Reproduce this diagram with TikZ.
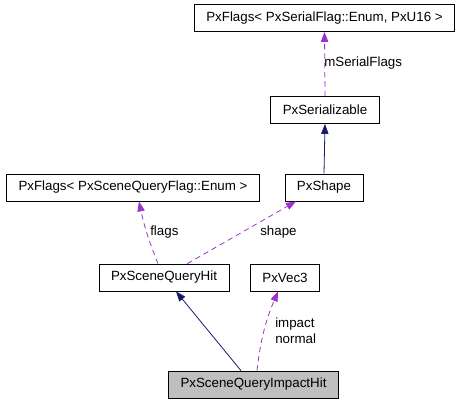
\documentclass[tikz,border=0pt]{standalone}
\usepackage{fontspec}
\setmainfont{Liberation Sans}
\usetikzlibrary{arrows.meta}

\definecolor{memberpurple}{HTML}{9A32CD}
\definecolor{basenavy}{HTML}{191970}

\begin{document}
\begin{tikzpicture}[
    x=0.75pt, y=0.75pt,
    >={Triangle[length=7.5pt, width=5.5pt]},
    classbox/.style={
        rectangle,
        draw=black,
        line width=0.6pt,
        fill=white,
        inner xsep=9pt,
        inner ysep=0pt,
        minimum height=20.25pt,
        font=\fontsize{10}{12}\selectfont
    },
    current/.style={
        classbox,
        fill=black!25
    },
    member/.style={
        ->,
        line width=0.6pt,
        memberpurple,
        dash pattern=on 4pt off 3pt
    },
    inherit/.style={
        ->,
        line width=0.6pt,
        basenavy
    },
    edgelabel/.style={
        inner sep=0pt,
        anchor=west,
        align=left,
        font=\fontsize{10}{12}\selectfont
    }
]
\useasboundingbox (0,0) rectangle (461,-403);

% =============== CLASSES ===============

\node[classbox] (flagsSer)     at (324.5, -18)  {PxFlags< PxSerialFlag::Enum, PxU16 >};
\node[classbox] (serializable) at (325, -110)   {PxSerializable};
\node[classbox] (shape)        at (324, -187.5) {PxShape};
\node[classbox] (flagsSQ)      at (133, -187.5) {PxFlags< PxSceneQueryFlag::Enum >};
\node[classbox] (hit)          at (164, -277.5) {PxSceneQueryHit};
\node[classbox] (vec3)         at (285, -277.5) {PxVec3};
\node[current]  (impactHit)    at (253.5, -384.5) {PxSceneQueryImpactHit};

% =============== HERITAGE ===============

\draw[inherit] (shape.north) -- (serializable.south);
\draw[inherit] ([xshift=-9.4pt]impactHit.north) -- ([xshift=9pt]hit.south);

% =============== MEMBRES ===============

\draw[member] (serializable.north) -- (flagsSer.south);
\draw[member] ([xshift=-4.5pt]hit.north) to[bend left=5] ([xshift=4.5pt]flagsSQ.south);
\draw[member] ([xshift=17.5pt]hit.north) -- ([xshift=-21pt]shape.south);
\draw[member] ([xshift=2.6pt]impactHit.north) to[bend left=8] ([xshift=-5.25pt]vec3.south);

% libelles des membres
\node[edgelabel] (lblSerial) at (324, -63)  {mSerialFlags};
\node[edgelabel] (lblFlags)  at (150, -232) {flags};
\node[edgelabel] (lblShape)  at (260, -232) {shape};
\node[edgelabel] (lblVec)    at (275, -331) {impact\\normal};

\end{tikzpicture}
\end{document}
